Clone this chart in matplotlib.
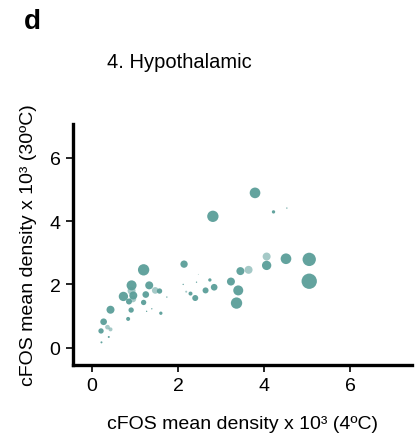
import matplotlib
matplotlib.use("Agg")
import matplotlib.pyplot as plt
import numpy as np

plt.rcParams['font.family'] = ['Liberation Sans', 'DejaVu Sans']

# cFOS mean density x 10^3 at 4ºC (x) and 30ºC (y), bubble weight, and faded flag
x_4c = [3.79, 2.81, 4.22, 4.53, 4.06, 4.06, 4.51, 5.05, 5.05, 3.64, 3.45, 3.23, 3.40, 3.36,
        2.84, 2.64, 2.74, 2.14, 2.40, 2.29, 2.19, 2.43, 2.12, 2.47,
        1.20, 0.92, 1.33, 0.73, 0.96, 1.25, 0.95, 0.86, 1.20, 0.91, 1.47, 1.57, 0.84, 1.60,
        1.27, 1.39, 1.74, 0.43, 0.27, 0.21, 0.36, 0.43, 0.39, 0.22, 0.92]
y_30c = [4.89, 4.15, 4.29, 4.41, 2.88, 2.60, 2.81, 2.79, 2.10, 2.46, 2.42, 2.09, 1.81, 1.41,
         1.91, 1.81, 2.14, 2.64, 1.57, 1.71, 1.77, 2.07, 2.00, 2.32,
         2.46, 1.97, 1.97, 1.62, 1.65, 1.68, 1.54, 1.46, 1.43, 1.19, 1.81, 1.79, 0.91, 1.09,
         1.15, 1.23, 1.60, 1.20, 0.82, 0.53, 0.65, 0.58, 0.34, 0.17, 1.80]
weight = [16, 17, 5, 2, 12, 14, 16, 20, 23, 12, 12, 12, 15, 17,
          10, 9, 5, 11, 9, 6, 3, 2, 2, 1,
          17, 15, 12, 14, 12, 10, 10, 9, 8, 8, 10, 8, 6, 5,
          2, 2, 2, 12, 10, 8, 7, 6, 3, 3, 12]
faded = [0, 0, 0, 0, 1, 0, 0, 0, 0, 1, 0, 0, 0, 0,
         0, 0, 0, 0, 0, 0, 1, 0, 0, 0,
         0, 0, 0, 0, 0, 0, 1, 0, 0, 0, 1, 0, 0, 0,
         0, 0, 0, 0, 0, 0, 1, 1, 0, 0, 1]

title = "4. Hypothalamic"
xlabel = "cFOS mean density x 10³ (4ºC)"
ylabel = "cFOS mean density x 10³ (30ºC)"
xticks = [0, 2, 4, 6]
yticks = [0, 2, 4, 6]

fig = plt.figure(figsize=(4.2, 4.35), dpi=100)
ax = fig.add_axes([0.174, 0.159, 0.807, 0.554])

color = "#5b9e99"
w = np.array(weight, dtype=float)
sizes = (2 * w / 3 * 0.72) ** 2
f = np.array(faded, dtype=bool)
ax.scatter(np.array(x_4c)[~f], np.array(y_30c)[~f], s=sizes[~f], color=color,
           edgecolors="none", alpha=0.95, zorder=3)
ax.scatter(np.array(x_4c)[f], np.array(y_30c)[f], s=sizes[f], color=color,
           edgecolors="none", alpha=0.55, zorder=2)

ax.set_xlim(-0.44, 7.44)
ax.set_ylim(-0.54, 7.07)
ax.set_xticks(xticks)
ax.set_yticks(yticks)
ax.tick_params(labelsize=14, width=1.2, length=5, direction="out", pad=4)
for s in ["top", "right"]:
    ax.spines[s].set_visible(False)
for s in ["left", "bottom"]:
    ax.spines[s].set_linewidth(2.4)

ax.set_xlabel(xlabel, fontsize=14, labelpad=15)
ax.set_ylabel(ylabel, fontsize=14, labelpad=9)

fig.text(0.255, 0.857, title, fontsize=14.5, ha="left", va="center")
fig.text(0.058, 0.95, "d", fontsize=20, fontweight="bold", ha="left", va="center")

fig.savefig("out.png", dpi=100)
